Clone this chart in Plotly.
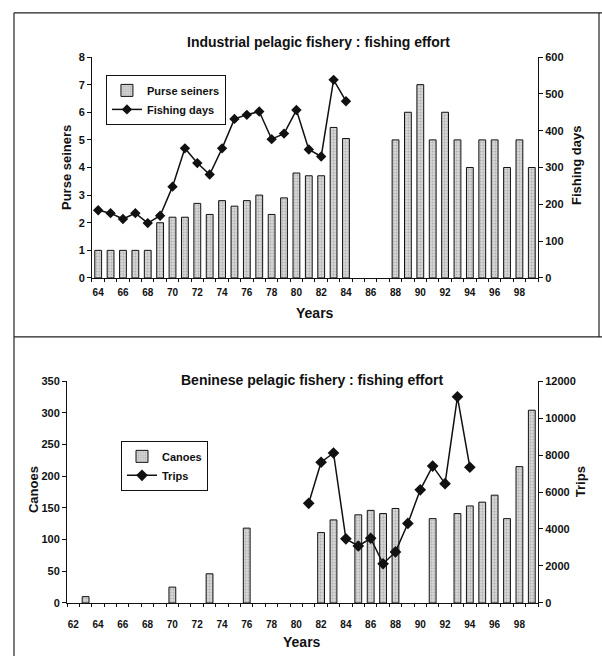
import plotly.graph_objects as go

# ---------------- data ----------------
top_years = list(range(64, 100))
purse_seiners = [1, 1, 1, 1, 1, 2, 2.2, 2.2, 2.7, 2.3, 2.8, 2.6, 2.8, 3.0, 2.3, 2.9,
                 3.8, 3.7, 3.7, 5.45, 5.05, None, None, None,
                 5, 6, 7, 5, 6, 5, 4, 5, 5, 4, 5, 4]
fd_years = list(range(64, 85))
fishing_days = [184, 176, 160, 176, 149, 169, 248, 352, 312, 281, 352, 432, 443,
                452, 377, 392, 456, 349, 330, 538, 480]

canoe_years = [63, 70, 73, 76, 82, 83, 85, 86, 87, 88, 91, 93, 94, 95, 96, 97, 98, 99]
canoes = [10, 25, 46, 118, 111, 131, 139, 146, 141, 149, 133, 141, 153, 159, 170, 133, 215, 304]
trip_years = list(range(81, 95))
trips = [5390, 7610, 8110, 3470, 3080, 3500, 2120, 2760, 4300, 6120, 7400, 6450, 11150, 7340]

top_ticks = list(range(64, 100, 2))
bot_ticks = list(range(62, 100, 2))

FONT = "Liberation Sans"
tickfont = dict(family=FONT, size=11, color="#111", weight="bold")

bar_marker = dict(color="#d6d6d6",
                  pattern=dict(shape=".", fgcolor="#8a8a8a", size=3, solidity=0.35),
                  line=dict(color="#111", width=1))

fig = go.Figure()

fig.add_trace(go.Bar(x=top_years, y=purse_seiners, name="Purse seiners",
                     marker=bar_marker, width=0.55, xaxis="x", yaxis="y",
                     legend="legend"))
fig.add_trace(go.Scatter(x=fd_years, y=fishing_days, name="Fishing days",
                         mode="lines+markers", line=dict(color="#111", width=1.5),
                         marker=dict(symbol="diamond", size=8, color="#111"),
                         xaxis="x", yaxis="y2", legend="legend"))

fig.add_trace(go.Bar(x=canoe_years, y=canoes, name="Canoes",
                     marker=bar_marker, width=0.55, xaxis="x2", yaxis="y3",
                     legend="legend2"))
fig.add_trace(go.Scatter(x=trip_years, y=trips, name="Trips",
                         mode="lines+markers", line=dict(color="#111", width=1.5),
                         marker=dict(symbol="diamond", size=9, color="#111"),
                         xaxis="x2", yaxis="y4", legend="legend2"))

axis_common = dict(showgrid=False, zeroline=False, showline=True, linecolor="#111",
                   linewidth=1, tickfont=tickfont)
yax = dict(axis_common, ticks="outside", ticklen=4, tickcolor="#111", tickformat="d")

fig.update_layout(
    width=602, height=662, margin=dict(l=0, r=0, t=0, b=0),
    paper_bgcolor="white", plot_bgcolor="white", barmode="overlay",
    xaxis=dict(axis_common, domain=[0.1528, 0.8937], anchor="y", range=[63.5, 99.5],
               tickmode="array", tickvals=top_ticks, ticktext=[str(t) for t in top_ticks],
               ticks="outside", ticklen=0, ticklabelstandoff=5,
               tickfont=dict(tickfont, size=10),
               minor=dict(ticks="outside", tickmode="linear", tick0=63.5, dtick=1,
                          ticklen=3, tickcolor="#111")),
    yaxis=dict(yax, domain=[0.5816, 0.9215], anchor="x", range=[0, 8], dtick=1),
    yaxis2=dict(yax, overlaying="y", side="right", anchor="x", range=[0, 600], dtick=100),
    xaxis2=dict(axis_common, domain=[0.1113, 0.8937], anchor="y3", range=[61.5, 99.5],
                tickmode="array", tickvals=bot_ticks, ticktext=[str(t) for t in bot_ticks],
                ticks="outside", ticklen=0, ticklabelstandoff=12,
                tickfont=dict(tickfont, size=10),
                minor=dict(ticks="outside", tickmode="linear", tick0=61.5, dtick=1,
                           ticklen=3, tickcolor="#111")),
    yaxis3=dict(yax, domain=[0.0816, 0.4230], anchor="x2", range=[0, 350], dtick=50),
    yaxis4=dict(yax, overlaying="y3", side="right", anchor="x2", range=[0, 12000], dtick=2000),
    legend=dict(x=0.176, y=0.894, xanchor="left", yanchor="top", bordercolor="#111",
                borderwidth=1, bgcolor="white", tracegroupgap=0,
                font=dict(family=FONT, size=11, color="#111", weight="bold"), itemwidth=30),
    legend2=dict(x=0.201, y=0.331, xanchor="left", yanchor="top", bordercolor="#111",
                 borderwidth=1, bgcolor="white", tracegroupgap=0,
                 font=dict(family=FONT, size=11, color="#111", weight="bold"), itemwidth=30),
    showlegend=True,
)

def ann(text, x, y, size, angle=0):
    fig.add_annotation(text=f"<b>{text}</b>", x=x / 602, y=1 - y / 662, xref="paper",
                       yref="paper", showarrow=False, textangle=angle,
                       font=dict(family=FONT, size=size, color="#111"),
                       xanchor="center", yanchor="middle")

ann("Industrial pelagic fishery : fishing effort", 318, 37, 14)
ann("Purse seiners", 66, 165, 13, -90)
ann("Fishing days", 576, 163, 13, -90)
ann("Years", 315, 313, 14)
ann("Beninese pelagic fishery : fishing effort", 312, 381, 14)
ann("Canoes", 33, 493, 13, -90)
ann("Trips", 580, 485, 13, -90)
ann("Years", 302, 648, 14)

# page frame
frame = dict(type="line", xref="paper", yref="paper", line=dict(color="#222", width=1.2))
fig.add_shape(frame, x0=14 / 602, x1=14 / 602, y0=0, y1=1 - 7 / 662)
fig.add_shape(frame, x0=14 / 602, x1=1, y0=1 - 7 / 662, y1=1 - 7 / 662)
fig.add_shape(frame, x0=599 / 602, x1=599 / 602, y0=1 - 337 / 662, y1=1 - 7 / 662)
fig.add_shape(frame, x0=14 / 602, x1=1, y0=1 - 337 / 662, y1=1 - 337 / 662)

fig.write_html("out.html")
